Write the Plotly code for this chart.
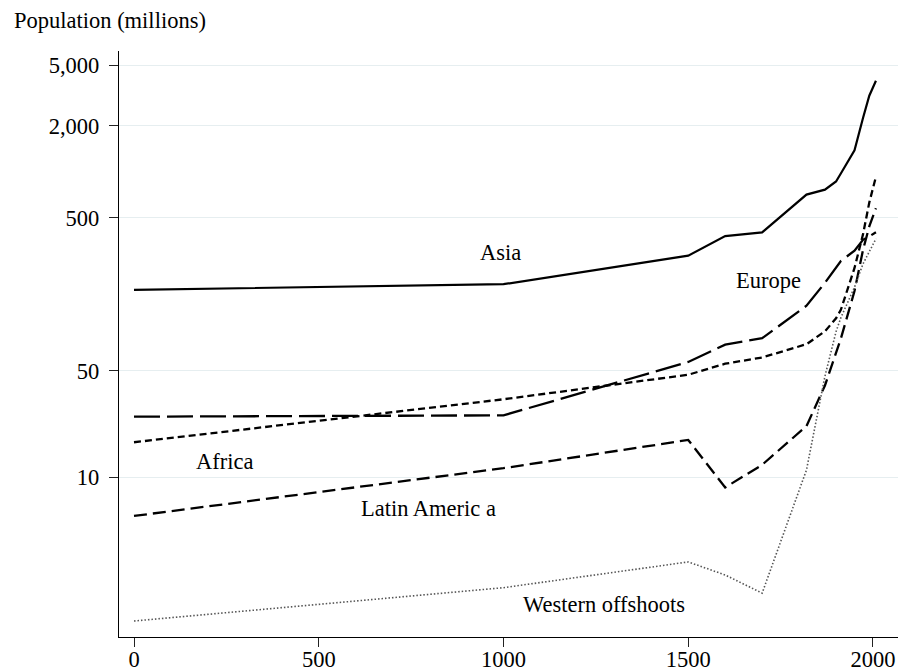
import math
import plotly.graph_objects as go

years = [0, 1000, 1500, 1600, 1700, 1820, 1870, 1900, 1913, 1950, 1973, 1990, 2008]

asia = [169, 184, 283, 380, 402, 710, 765, 865, 975, 1385, 2250, 3150, 3950]
europe = [25, 25.5, 57, 74, 81.5, 133, 188, 235, 261, 305, 359, 378, 403]
africa = [17, 32.5, 47, 55.5, 61, 74.5, 90.5, 110, 125, 235, 390, 630, 930]
latin_america = [5.6, 11.5, 17.6, 8.6, 12.1, 21.7, 40, 65, 81, 166, 308, 440, 578]
western_offshoots = [1.15, 1.9, 2.8, 2.3, 1.75, 11.2, 46, 90, 111, 176, 250, 300, 365]

y_tickvals = [10, 50, 500, 2000, 5000]
y_ticktext = ["10", "50", "500", "2,000", "5,000"]
x_tickvals = [0, 500, 1000, 1500, 2000]

label_texts = ["Asia", "Europe", "Africa", "Latin Americ a", "Western offshoots"]
label_x = [993, 1716, 246, 796, 1272]
label_y = [295, 196, 12.7, 6.3, 1.47]

FONT = "Liberation Serif, Times New Roman, serif"
FS = 22.5

fig = go.Figure()
series = [
    ("Asia", asia, dict(color="black", width=2.2, dash="solid")),
    ("Europe", europe, dict(color="black", width=2.3, dash="26px,7px")),
    ("Africa", africa, dict(color="black", width=2.3, dash="7px,4px")),
    ("Latin America", latin_america, dict(color="black", width=2.3, dash="13px,6px")),
    ("Western offshoots", western_offshoots, dict(color="#555555", width=1.6, dash="1.5px,2px")),
]
for name, vals, line in series:
    fig.add_trace(go.Scatter(x=years, y=vals, mode="lines", name=name, line=line,
                             showlegend=False, hoverinfo="skip"))

for t, x, y in zip(label_texts, label_x, label_y):
    fig.add_annotation(x=x, y=math.log10(y), text=t, showarrow=False,
                       xref="x", yref="y", xanchor="center", yanchor="middle",
                       font=dict(family=FONT, size=FS, color="black"))

fig.add_annotation(x=-107/779, y=1.052, xref="paper", yref="paper", text="Population (millions)",
                   showarrow=False, xanchor="left", yanchor="middle",
                   font=dict(family=FONT, size=FS, color="black"))

fig.update_layout(
    width=898, height=670,
    margin=dict(l=119, r=0, t=51, b=33, autoexpand=False),
    paper_bgcolor="white", plot_bgcolor="white",
    font=dict(family=FONT, size=FS, color="black"),
)
fig.update_xaxes(range=[-40.6, 2067.7], tickvals=x_tickvals, ticks="outside", ticklen=9,
                 tickwidth=1.3, tickcolor="#222", showline=True, linecolor="black", linewidth=1.3,
                 showgrid=False, zeroline=False, tickfont=dict(family=FONT, size=FS),
                 ticklabelstandoff=-7, automargin=False)
fig.update_yaxes(type="log", range=[-0.044, 3.791], tickvals=y_tickvals, ticktext=y_ticktext,
                 ticks="outside", ticklen=9, tickwidth=1.3, tickcolor="#222",
                 showline=True, linecolor="black", linewidth=1.3, ticklabelstandoff=5,
                 showgrid=True, gridcolor="#e6eef0", gridwidth=1.3, zeroline=False,
                 tickfont=dict(family=FONT, size=FS), automargin=False)

fig.write_html("out.html", config={"displayModeBar": False},
               post_script="document.body.style.margin='0';document.body.style.overflow='hidden';")
